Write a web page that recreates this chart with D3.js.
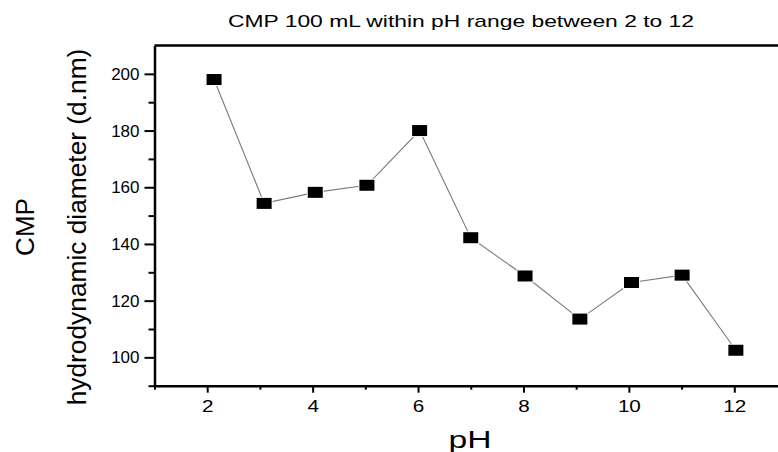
<!DOCTYPE html>
<html>
<head>
<meta charset="utf-8">
<script src="https://cdn.jsdelivr.net/npm/d3@7"></script>
<style>
  body { margin: 0; background: #fff; }
  text { font-family: "Liberation Sans", Arial, sans-serif; fill: #000; }
</style>
</head>
<body>
<svg id="chart" width="778" height="452"></svg>
<script>
// measured pH and hydrodynamic diameter (d.nm)
var phValues = [2.13, 3.08, 4.05, 5.03, 6.03, 7.0, 8.03, 9.07, 10.05, 11.01, 12.03];
var diameters = [198.0, 154.3, 158.2, 160.7, 180.0, 142.2, 128.7, 113.5, 126.4, 129.0, 102.5];
var xTicks = [2, 4, 6, 8, 10, 12];
var xMinor = [1, 3, 5, 7, 9, 11];
var yTicks = [100, 120, 140, 160, 180, 200];
var yMinor = [90, 110, 130, 150, 170, 190];

var svg = d3.select("#chart");
var pLeft = 154.5, pRight = 787, pTop = 45.5, pBottom = 385.7;

var x = d3.scaleLinear().domain([1, 13]).range([pLeft, pRight]);
var y = d3.scaleLinear().domain([90, 210]).range([pBottom, pTop]);

// frame top
svg.append("line").attr("x1", pLeft).attr("x2", pRight).attr("y1", pTop).attr("y2", pTop)
    .attr("stroke", "#000").attr("stroke-width", 2.5);

// minor ticks
svg.append("g").attr("transform", "translate(0," + pBottom + ")")
    .call(d3.axisBottom(x).tickValues(xMinor).tickSize(4).tickFormat(""))
    .call(g => g.select(".domain").remove())
    .selectAll("line").attr("stroke-width", 2);
svg.append("g").attr("transform", "translate(" + pLeft + ",0)")
    .call(d3.axisLeft(y).tickValues(yMinor).tickSize(6).tickFormat(""))
    .call(g => g.select(".domain").remove())
    .selectAll("line").attr("stroke-width", 2);

// major axes
var xAxis = svg.append("g").attr("transform", "translate(0," + pBottom + ")")
    .call(d3.axisBottom(x).tickValues(xTicks).tickSize(7).tickSizeOuter(0).tickPadding(7));
var yAxis = svg.append("g").attr("transform", "translate(" + pLeft + ",0)")
    .call(d3.axisLeft(y).tickValues(yTicks).tickSize(10).tickSizeOuter(0).tickPadding(5));
[xAxis, yAxis].forEach(function(a) {
    a.attr("font-size", 17).attr("font-family", null);
    a.select(".domain").attr("stroke-width", 2.5);
    a.selectAll(".tick line").attr("stroke-width", 2);
    a.selectAll(".tick text").attr("font-size", 17).style("font-size", "17px");
});
xAxis.selectAll(".tick text").attr("textLength", function(d) { return String(d).length * 11.5; })
    .attr("lengthAdjust", "spacingAndGlyphs");

// connecting line
var pts = phValues.map(function(p, i) { return [x(p), y(diameters[i])]; });
svg.append("path")
    .attr("d", d3.line()(pts))
    .attr("fill", "none")
    .attr("stroke", "#7a7a7a")
    .attr("stroke-width", 1.1);

// markers
svg.selectAll("rect.pt").data(pts).enter().append("rect")
    .attr("class", "pt")
    .attr("x", d => d[0] - 7.5)
    .attr("y", d => d[1] - 5.5)
    .attr("width", 15)
    .attr("height", 11)
    .attr("fill", "#000")
    .attr("stroke", "#fff")
    .attr("stroke-width", 2)
    .attr("paint-order", "stroke");

// title
svg.append("text")
    .attr("x", 461).attr("y", 27)
    .attr("text-anchor", "middle")
    .attr("textLength", 466)
    .attr("lengthAdjust", "spacingAndGlyphs")
    .style("font-size", "17px")
    .text("CMP 100 mL within pH range between 2 to 12");

// axis labels
svg.append("text")
    .attr("x", 470).attr("y", 448)
    .attr("text-anchor", "middle")
    .attr("textLength", 43)
    .attr("lengthAdjust", "spacingAndGlyphs")
    .style("font-size", "23px")
    .text("pH");

var yl = svg.append("text")
    .attr("transform", "translate(0,227) rotate(-90)")
    .attr("text-anchor", "middle");
yl.append("tspan").attr("x", 0).attr("y", 34)
    .style("font-size", "26px")
    .text("CMP");
yl.append("tspan").attr("x", 0).attr("y", 86)
    .style("font-size", "26.3px")
    .text("hydrodynamic diameter (d.nm)");
</script>
</body>
</html>
